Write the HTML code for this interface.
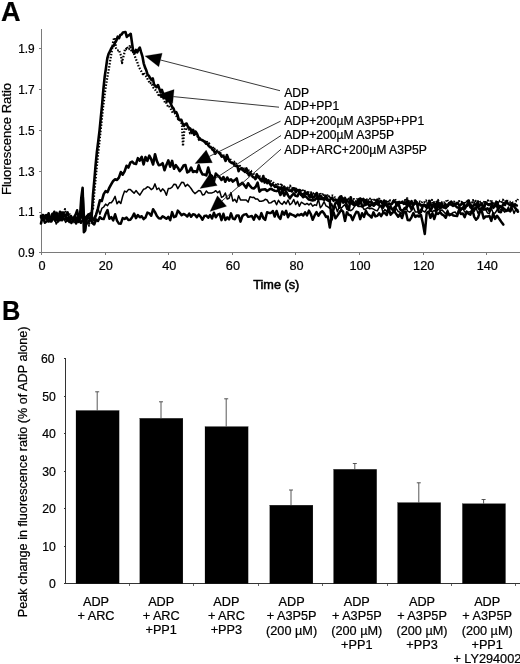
<!DOCTYPE html>
<html><head><meta charset="utf-8"><title>Figure</title>
<style>html,body{margin:0;padding:0;background:#fff}svg{display:block;filter:grayscale(1)}</style>
</head><body>
<svg width="520" height="664" viewBox="0 0 520 664">
<rect width="520" height="664" fill="#fff"/>
<g font-family="'Liberation Sans', Arial, sans-serif" fill="#000" stroke="#000" stroke-width="0.22">
<text transform="translate(1.0,20.5) scale(0.96,1)" font-size="28.2" font-weight="bold">A</text>
<text transform="translate(1.9,320.2) scale(0.91,1)" font-size="27.9" font-weight="bold">B</text>
<g stroke="#7a7a7a" stroke-width="1" fill="none" shape-rendering="crispEdges">
<path d="M41.5,29 V252.5 H520"/>
<path d="M38.5,252.5 H41.5"/>
<path d="M38.5,212.5 H41.5"/>
<path d="M38.5,171.5 H41.5"/>
<path d="M38.5,130.5 H41.5"/>
<path d="M38.5,89.5 H41.5"/>
<path d="M38.5,48.5 H41.5"/>
<path d="M41.5,252.5 V255"/>
<path d="M105.5,252.5 V255"/>
<path d="M168.5,252.5 V255"/>
<path d="M232.5,252.5 V255"/>
<path d="M295.5,252.5 V255"/>
<path d="M359.5,252.5 V255"/>
<path d="M423.5,252.5 V255"/>
<path d="M486.5,252.5 V255"/>
</g>
<g font-size="11.9" text-anchor="end">
<text x="34.7" y="257.1">0.9</text>
<text x="34.7" y="216.3">1.1</text>
<text x="34.7" y="175.5">1.3</text>
<text x="34.7" y="134.7">1.5</text>
<text x="34.7" y="93.9">1.7</text>
<text x="34.7" y="53.1">1.9</text>
</g>
<g font-size="12.7" text-anchor="middle">
<text x="42.1" y="269.7">0</text>
<text x="105.7" y="269.7">20</text>
<text x="169.3" y="269.7">40</text>
<text x="232.9" y="269.7">60</text>
<text x="296.5" y="269.7">80</text>
<text x="360.1" y="269.7">100</text>
<text x="423.7" y="269.7">120</text>
<text x="487.3" y="269.7">140</text>
</g>
<text x="276.3" y="289.0" font-size="12.7" text-anchor="middle" stroke="#000" stroke-width="0.55">Time (s)</text>
<text transform="translate(10.6,139) rotate(-90)" font-size="13" text-anchor="middle">Fluorescence Ratio</text>
<g fill="none" stroke="#000" stroke-linejoin="round" stroke-linecap="round">
<path d="M41.0,215.8 L42.9,216.8 L44.8,222.7 L46.7,221.3 L48.6,220.5 L50.5,219.6 L52.4,213.7 L54.3,217.0 L56.2,216.9 L58.1,215.6 L60.0,220.3 L61.9,216.3 L63.8,216.5 L65.7,215.4 L67.6,212.2 L69.5,220.7 L71.4,223.0 L73.3,219.4 L75.2,215.7 L77.1,210.3 L79.0,219.4 L80.9,222.8 L82.8,219.9 L84.7,221.9 L86.6,223.6 L88.5,222.5 L90.4,217.6 L92.3,222.8 L94.2,224.5 L96.1,219.5 L98.0,220.9 L99.9,217.1 L101.8,218.8 L103.7,219.1 L105.6,213.8 L107.5,210.1 L109.4,218.7 L111.3,217.1 L113.2,220.4 L115.1,214.3 L117.0,220.6 L118.9,223.6 L120.8,223.7 L122.7,218.1 L124.6,218.9 L126.5,217.6 L128.4,220.1 L130.3,219.8 L132.2,217.3 L134.1,213.5 L136.0,218.2 L137.9,215.0 L139.8,217.3 L141.7,216.2 L143.6,219.1 L145.5,217.5 L147.4,212.6 L149.3,213.4 L151.2,215.8 L153.1,209.2 L155.0,212.1 L156.9,216.0 L158.8,218.3 L160.7,218.6 L162.6,216.3 L164.5,217.4 L166.4,218.8 L168.3,216.9 L170.2,220.1 L172.1,212.1 L174.0,217.1 L175.9,216.3 L177.8,210.6 L179.7,212.8 L181.6,215.3 L183.5,213.9 L185.4,214.9 L187.3,216.5 L189.2,213.6 L191.1,216.8 L193.0,214.3 L194.9,214.7 L196.8,217.3 L198.7,214.6 L200.6,216.7 L202.5,219.8 L204.4,216.0 L206.3,215.6 L208.2,217.7 L210.1,215.0 L212.0,218.5 L213.9,212.8 L215.8,217.3 L217.7,214.6 L219.6,213.9 L221.5,220.1 L223.4,213.8 L225.3,220.0 L227.2,217.4 L229.1,219.3 L231.0,213.4 L232.9,218.6 L234.8,219.2 L236.7,215.4 L238.6,215.4 L240.5,221.6 L242.4,216.1 L244.3,214.6 L246.2,214.1 L248.1,216.7 L250.0,216.4 L251.9,216.0 L253.8,219.7 L255.7,214.8 L257.6,216.7 L259.5,219.1 L261.4,213.1 L263.3,218.0 L265.2,219.9 L267.1,212.3 L269.0,212.9 L270.9,213.0 L272.8,211.0 L274.7,216.5 L276.6,211.0 L278.5,216.6 L280.4,218.9 L282.3,211.5 L284.2,214.6 L286.1,210.8 L288.0,217.2 L289.9,213.6 L291.8,214.7 L293.7,215.4 L295.6,216.6 L297.5,214.5 L299.4,215.3 L301.3,214.0 L303.2,215.5 L305.1,212.4 L307.0,215.4 L308.9,210.6 L310.8,214.0 L312.7,219.8 L314.6,215.4 L316.5,212.1 L318.4,215.8 L320.3,212.8 L322.2,211.2 L324.1,213.3 L326.0,216.9 L327.9,216.6 L329.8,227.6 L331.7,216.0 L333.6,212.5 L335.5,218.3 L337.4,215.6 L339.3,212.7 L341.2,209.9 L343.1,211.7 L345.0,220.9 L346.9,212.2 L348.8,214.8 L350.7,215.5 L352.6,220.1 L354.5,215.5 L356.4,211.7 L358.3,212.5 L360.2,219.1 L362.1,213.2 L364.0,217.0 L365.9,210.9 L367.8,214.3 L369.7,215.6 L371.6,217.5 L373.5,212.3 L375.4,216.4 L377.3,215.9 L379.2,213.2 L381.1,216.1 L383.0,212.8 L384.9,213.1 L386.8,215.0 L388.7,208.5 L390.6,214.7 L392.5,212.6 L394.4,211.5 L396.3,214.0 L398.2,216.8 L400.1,214.0 L402.0,218.0 L403.9,212.2 L405.8,211.9 L407.7,220.0 L409.6,220.3 L411.5,217.3 L413.4,213.0 L415.3,216.9 L417.2,215.6 L419.1,216.6 L421.0,215.1 L422.9,223.6 L424.8,234.0 L426.7,212.7 L428.6,211.5 L430.5,217.8 L432.4,213.2 L434.3,219.0 L436.2,212.8 L438.1,214.0 L440.0,212.0 L441.9,214.4 L443.8,215.4 L445.7,217.7 L447.6,212.8 L449.5,215.3 L451.4,214.1 L453.3,215.5 L455.2,215.8 L457.1,216.0 L459.0,210.0 L460.9,214.0 L462.8,213.4 L464.7,217.1 L466.6,211.5 L468.5,213.6 L470.4,214.6 L472.3,209.2 L474.2,216.9 L476.1,219.7 L478.0,217.7 L479.9,211.9 L481.8,211.1 L483.7,218.4 L485.6,216.5 L487.5,216.6 L489.4,215.8 L491.3,220.9 L493.2,213.3 L495.1,218.9 L497.0,215.7 L498.3,217.5 L500.2,220.2 L501.8,222.6 L503.3,224.6" stroke-width="2.5"/>
<path d="M41.0,217.3 L42.9,214.3 L44.8,215.9 L46.7,215.0 L48.6,214.3 L50.5,221.9 L52.4,215.1 L54.3,217.2 L56.2,224.0 L58.1,220.9 L60.0,218.3 L61.9,215.3 L63.8,218.5 L65.7,222.4 L67.6,219.2 L69.5,221.3 L71.4,217.6 L73.3,219.0 L75.2,216.7 L77.1,218.7 L79.0,221.5 L80.9,212.8 L82.8,217.2 L84.7,218.2 L86.6,215.6 L88.5,216.5 L90.4,220.0 L92.3,223.6 L94.2,217.0 L96.1,214.6 L98.0,208.6 L99.9,214.3 L101.8,208.4 L103.7,207.0 L105.6,204.1 L107.5,205.7 L109.4,202.8 L111.3,202.8 L113.2,200.2 L115.1,196.4 L117.0,203.8 L118.9,201.2 L120.8,203.5 L122.7,196.3 L124.6,191.1 L126.5,192.0 L128.4,189.6 L130.3,189.5 L132.2,191.4 L134.1,193.3 L136.0,190.6 L137.9,192.9 L139.8,195.1 L141.7,192.2 L143.6,189.2 L145.5,188.6 L147.4,186.8 L149.3,187.4 L151.2,189.6 L153.1,188.3 L155.0,183.9 L156.9,189.5 L158.8,188.0 L160.7,191.5 L162.6,188.9 L164.5,190.8 L166.4,195.3 L168.3,188.6 L170.2,188.5 L172.1,187.1 L174.0,184.2 L175.9,184.6 L177.8,188.7 L179.7,185.7 L181.6,182.3 L183.5,182.4 L185.4,186.5 L187.3,184.4 L189.2,186.1 L191.1,188.5 L193.0,191.5 L194.9,193.6 L196.8,192.1 L198.7,190.5 L200.6,191.0 L202.5,194.9 L204.4,194.4 L206.3,191.0 L208.2,193.1 L210.1,193.1 L212.0,192.9 L213.9,192.1 L215.8,190.7 L217.7,192.8 L219.6,191.0 L221.5,197.4 L223.4,196.3 L225.3,193.0 L227.2,199.0 L229.1,198.3 L231.0,192.6 L232.9,201.1 L234.8,199.3 L236.7,202.4 L238.6,195.7 L240.5,199.9 L242.4,200.1 L244.3,200.0 L246.2,200.1 L248.1,202.1 L250.0,196.7 L251.9,197.4 L253.8,197.2 L255.7,199.1 L257.6,199.1 L259.5,201.3 L261.4,201.2 L263.3,200.8 L265.2,199.3 L267.1,200.0 L269.0,203.1 L270.9,202.8 L272.8,201.4 L274.7,200.6 L276.6,204.8 L278.5,200.3 L280.4,203.1 L282.3,204.4 L284.2,201.5 L286.1,204.0 L288.0,200.0 L289.9,204.8 L291.8,203.2 L293.7,199.5 L295.6,204.5 L297.5,201.3 L299.4,206.2 L301.3,202.2 L303.2,203.4 L305.1,204.6 L307.0,203.4 L308.9,204.9 L310.8,203.3 L312.7,206.1 L314.6,204.8 L316.5,205.4 L318.4,199.1 L320.3,207.7 L322.2,205.4 L324.1,201.7 L326.0,205.9 L327.9,206.8 L329.8,208.3 L331.7,203.8 L333.6,209.6 L335.5,206.1 L337.4,211.7 L339.3,206.4 L341.2,208.3 L343.1,206.2 L345.0,204.7 L346.9,209.6 L348.8,209.3 L350.7,210.7 L352.6,209.4 L354.5,206.4 L356.4,204.1 L358.3,206.4 L360.2,206.4 L362.1,206.2 L364.0,209.4 L365.9,208.9 L367.8,207.7 L369.7,208.8 L371.6,208.2 L373.5,209.1 L375.4,210.3 L377.3,210.9 L379.2,207.4 L381.1,205.8 L383.0,212.2 L384.9,209.5 L386.8,211.7 L388.7,205.9 L390.6,208.8 L392.5,209.7 L394.4,206.6 L396.3,208.7 L398.2,211.5 L400.1,212.3 L402.0,213.5 L403.9,208.2 L405.8,207.0 L407.7,211.2 L409.6,212.2 L411.5,210.6 L413.4,207.4 L415.3,211.9 L417.2,211.9 L419.1,211.4 L421.0,209.2 L422.9,210.9 L424.8,212.0 L426.7,209.1 L428.6,206.4 L430.5,211.1 L432.4,211.5 L434.3,210.5 L436.2,212.4 L438.1,209.2 L440.0,210.3 L441.9,209.9 L443.8,211.8 L445.7,214.0 L447.6,210.1 L449.5,215.1 L451.4,214.0 L453.3,212.4 L455.2,212.0 L457.1,214.6 L459.0,210.4 L460.9,210.5 L462.8,208.5 L464.7,211.8 L466.6,213.8 L468.5,212.0 L470.4,211.8 L472.3,210.5 L474.2,211.3 L476.1,207.9 L478.0,213.3 L479.9,210.1 L481.8,208.7 L483.7,209.4 L485.6,209.3 L487.5,213.0 L489.4,213.4 L491.3,208.2 L493.2,213.2 L495.1,213.1 L497.0,210.0 L498.9,208.0 L500.8,209.7 L502.7,209.9 L504.6,212.1 L506.5,210.6 L508.4,207.0 L510.3,211.9 L512.2,208.1 L514.1,213.4 L516.0,208.9 L517.9,210.0" stroke-width="1.5"/>
<path d="M41.0,223.5 L42.9,215.2 L44.8,217.4 L46.7,219.2 L48.6,213.3 L50.5,219.1 L52.4,217.5 L54.3,211.8 L56.2,218.6 L58.1,221.5 L60.0,211.7 L61.9,220.3 L63.8,218.4 L65.7,219.3 L67.6,219.2 L69.5,221.9 L71.4,217.1 L73.3,220.6 L75.2,216.5 L77.1,220.2 L79.0,215.3 L80.9,217.5 L82.8,197.2 L84.7,230.5 L86.6,217.4 L88.5,214.3 L90.4,215.5 L92.3,218.6 L94.2,220.0 L96.1,214.7 L98.0,208.3 L99.9,200.2 L101.8,201.0 L103.7,194.1 L105.6,191.1 L107.5,192.2 L109.4,187.6 L111.3,184.2 L113.2,180.9 L115.1,179.3 L117.0,179.9 L118.9,177.6 L120.8,172.1 L122.7,174.6 L124.6,171.3 L126.5,165.8 L128.4,167.6 L130.3,162.7 L132.2,161.6 L134.1,163.6 L136.0,164.0 L137.9,158.2 L139.8,160.6 L141.7,156.9 L143.6,164.5 L145.5,157.0 L147.4,160.8 L149.3,155.7 L151.2,159.2 L153.1,164.5 L155.0,154.2 L156.9,161.1 L158.8,165.2 L160.7,164.7 L162.6,163.2 L164.5,170.2 L166.4,164.9 L168.3,160.4 L170.2,166.7 L172.1,160.9 L174.0,168.8 L175.9,165.2 L177.8,167.7 L179.7,171.2 L181.6,169.0 L183.5,165.6 L185.4,165.0 L187.3,172.4 L189.2,171.4 L191.1,167.6 L193.0,172.0 L194.9,171.2 L196.8,172.1 L198.7,165.3 L200.6,170.8 L202.5,174.4 L204.4,174.5 L206.3,175.4 L208.2,167.5 L210.1,174.6 L212.0,176.0 L213.9,181.7 L215.8,173.5 L217.7,175.6 L219.6,177.2 L221.5,179.9 L223.4,177.1 L225.3,181.7 L227.2,177.5 L229.1,180.7 L231.0,179.3 L232.9,181.6 L234.8,180.1 L236.7,178.4 L238.6,185.8 L240.5,184.4 L242.4,182.8 L244.3,185.3 L246.2,187.8 L248.1,183.3 L250.0,185.9 L251.9,188.0 L253.8,188.5 L255.7,186.7 L257.6,182.7 L259.5,191.6 L261.4,189.8 L263.3,189.5 L265.2,189.2 L267.1,191.0 L269.0,189.7 L270.9,188.7 L272.8,189.9 L274.7,190.7 L276.6,191.1 L278.5,190.2 L280.4,195.0 L282.3,190.4 L284.2,195.6 L286.1,191.7 L288.0,195.4 L289.9,198.3 L291.8,195.6 L293.7,193.5 L295.6,195.8 L297.5,196.3 L299.4,191.9 L301.3,195.0 L303.2,197.2 L305.1,195.9 L307.0,197.6 L308.9,199.5 L310.8,199.9 L312.7,200.5 L314.6,200.0 L316.5,198.1 L318.4,199.1 L320.3,198.8 L322.2,199.0 L324.1,199.6 L326.0,196.0 L327.9,199.8 L329.8,200.9 L331.7,219.5 L333.6,208.0 L335.5,203.1 L337.4,201.7 L339.3,207.7 L341.2,196.2 L343.1,202.5 L345.0,198.5 L346.9,205.7 L348.8,210.1 L350.7,197.2 L352.6,204.0 L354.5,205.1 L356.4,203.2 L358.3,205.5 L360.2,198.6 L362.1,206.5 L364.0,205.4 L365.9,204.7 L367.8,203.3 L369.7,206.5 L371.6,203.8 L373.5,205.7 L375.4,204.0 L377.3,199.7 L379.2,205.5 L381.1,206.2 L383.0,207.7 L384.9,203.7 L386.8,206.0 L388.7,207.8 L390.6,206.7 L392.5,209.6 L394.4,211.6 L396.3,204.5 L398.2,202.0 L400.1,209.2 L402.0,210.9 L403.9,209.4 L405.8,209.1 L407.7,205.5 L409.6,205.3 L411.5,209.3 L413.4,204.8 L415.3,202.6 L417.2,204.6 L419.1,213.4 L421.0,212.0 L422.9,205.5 L424.8,205.4 L426.7,207.8 L428.6,205.4 L430.5,210.6 L432.4,207.1 L434.3,204.6 L436.2,210.6 L438.1,205.9 L440.0,207.9 L441.9,207.3 L443.8,206.6 L445.7,208.2 L447.6,205.7 L449.5,202.8 L451.4,201.9 L453.3,204.3 L455.2,205.6 L457.1,207.4 L459.0,207.6 L460.9,208.9 L462.8,207.8 L464.7,205.5 L466.6,205.8 L468.5,202.2 L470.4,207.2 L472.3,208.8 L474.2,209.0 L476.1,207.3 L478.0,207.2 L479.9,210.0 L481.8,207.7 L483.7,209.6 L485.6,209.2 L487.5,208.3 L489.4,211.0 L491.3,206.3 L493.2,206.9 L495.1,205.8 L497.0,205.8 L498.9,211.8 L500.8,212.3 L502.7,207.9 L504.6,209.3 L506.5,210.9 L508.4,210.0 L510.3,211.0 L512.2,204.8 L514.1,206.4 L516.0,209.1 L517.9,211.6" stroke-width="2.6"/>
<path d="M41.0,217.2 L42.3,219.6 L43.6,217.3 L44.9,217.0 L46.2,215.0 L47.5,217.3 L48.8,221.5 L50.1,219.3 L51.4,221.3 L52.7,218.8 L54.0,219.3 L55.3,218.6 L56.6,212.7 L57.9,220.7 L59.2,219.6 L60.5,219.6 L61.8,212.6 L63.1,212.5 L64.4,215.2 L65.7,216.5 L67.0,219.0 L68.3,217.9 L69.6,219.7 L70.9,216.0 L72.2,219.0 L73.5,219.3 L74.8,215.9 L76.1,223.5 L77.4,219.8 L78.7,221.8 L80.0,216.0 L81.3,197.8 L82.6,187.8 L83.9,232.1 L85.2,230.5 L86.5,218.8 L87.8,216.6 L89.1,214.8 L90.4,213.5 L91.7,216.5 L93.0,194.8 L94.3,180.5 L95.6,165.0 L96.9,152.0 L98.2,141.7 L99.5,130.9 L100.8,117.7 L102.1,104.7 L103.4,89.2 L104.7,76.7 L106.0,67.9 L107.3,58.4 L108.6,53.8 L109.9,51.5 L111.2,48.4 L112.5,46.5 L113.8,45.7 L115.1,42.4 L116.4,40.5 L117.7,36.7 L119.0,38.2 L120.3,34.9 L121.6,34.5 L122.9,32.6 L124.2,32.3 L125.5,32.0 L126.8,36.9 L128.1,35.6 L129.4,35.0 L130.7,33.8 L132.0,42.9 L133.3,52.2 L134.6,53.0 L135.9,49.9 L137.2,52.4 L138.5,49.4 L139.8,47.5 L141.1,52.2 L142.4,56.3 L143.7,63.3 L145.0,67.4 L146.3,70.3 L147.6,74.7 L148.9,75.8 L150.2,78.1 L151.5,80.0 L152.8,78.5 L154.1,84.7 L155.4,86.0 L156.7,87.2 L158.0,85.0 L159.3,88.6 L160.6,92.4 L161.9,89.8 L163.2,93.8 L164.5,97.2 L165.8,95.1 L167.1,101.1 L168.4,101.0 L169.7,101.4 L171.0,104.3 L172.3,107.2 L173.6,108.7 L174.9,112.6 L176.2,112.1 L177.5,114.9 L178.8,119.5 L180.1,120.1 L181.4,119.9 L182.7,123.8 L184.0,125.8 L185.3,124.0 L186.6,123.6 L187.9,126.7 L189.2,127.9 L190.5,128.8 L191.8,132.6 L193.1,129.9 L194.4,134.6 L195.7,131.8 L197.0,133.7 L198.3,137.1 L199.6,139.0 L200.9,139.7 L202.2,140.0 L203.5,140.9 L204.8,142.0 L206.1,143.8 L207.4,143.8 L208.7,145.7 L210.0,147.3 L211.3,147.5 L212.6,149.8 L213.9,150.5 L215.2,153.7 L216.5,152.0 L217.8,151.8 L219.1,152.8 L220.4,154.3 L221.7,156.7 L223.0,155.7 L224.3,157.7 L225.6,160.9 L226.9,155.0 L228.2,158.2 L229.5,161.2 L230.8,162.4 L232.1,163.1 L233.4,163.0 L234.7,165.6 L236.0,166.0 L237.3,165.7 L238.6,171.2 L239.9,168.9 L241.2,168.4 L242.5,170.0 L243.8,170.8 L245.1,171.9 L246.4,168.4 L247.7,172.5 L249.0,175.4 L250.3,172.6 L251.6,174.9 L252.9,177.1 L254.2,177.5 L255.5,179.1 L256.8,174.7 L258.1,177.4 L259.4,178.0 L260.7,180.1 L262.0,181.4 L263.3,176.1 L264.6,182.6 L265.9,179.2 L267.2,183.2 L268.5,180.4 L269.8,183.5 L271.1,185.7 L272.4,184.2 L273.7,185.3 L275.0,186.9 L276.3,186.4 L277.6,186.7 L278.9,189.6 L280.2,189.2 L281.5,187.4 L282.8,192.4 L284.1,186.7 L285.4,190.2 L286.7,188.7 L288.0,189.6 L289.3,190.8 L290.6,190.4 L291.9,191.4 L293.2,188.3 L294.5,188.6 L295.8,192.3 L297.1,190.1 L298.4,190.3 L299.7,190.0 L301.0,194.6 L302.3,194.1 L303.6,195.5 L304.9,192.1 L306.2,193.8 L307.5,192.4 L308.8,195.7 L310.1,197.3 L311.4,193.7 L312.7,197.8 L314.0,197.1 L315.3,195.5 L316.6,193.0 L317.9,198.5 L319.2,196.4 L320.5,195.8 L321.8,197.6 L323.1,197.9 L324.4,199.8 L325.7,196.2 L327.0,199.8 L328.3,200.6 L329.6,200.8 L330.9,198.4 L332.2,197.8 L333.5,200.8 L334.8,199.6 L336.1,199.9 L337.4,202.2 L338.7,199.8 L340.0,196.9 L341.3,200.1 L342.6,198.0 L343.9,202.3 L345.2,201.6 L346.5,200.2 L347.8,201.2 L349.1,202.6 L350.4,201.5 L351.7,203.5 L353.0,201.4 L354.3,203.2 L355.6,204.0 L356.9,204.2 L358.2,200.8 L359.5,203.2 L360.8,199.0 L362.1,200.3 L363.4,199.0 L364.7,203.8 L366.0,200.3 L367.3,202.3 L368.6,202.0 L369.9,202.4 L371.2,201.6 L372.5,202.9 L373.8,205.4 L375.1,202.8 L376.4,203.6 L377.7,204.4 L379.0,202.6 L380.3,201.0 L381.6,202.2 L382.9,204.8 L384.2,200.6 L385.5,202.3 L386.8,204.9 L388.1,204.6 L389.4,203.5 L390.7,204.8 L392.0,203.8 L393.3,201.8 L394.6,201.3 L395.9,202.8 L397.2,205.3 L398.5,203.0 L399.8,202.6 L401.1,202.8 L402.4,201.6 L403.7,203.9 L405.0,202.2 L406.3,204.6 L407.6,200.4 L408.9,204.6 L410.2,203.1 L411.5,201.1 L412.8,205.3 L414.1,203.7 L415.4,200.7 L416.7,202.8 L418.0,204.6 L419.3,203.5 L420.6,205.4 L421.9,205.4 L423.2,205.3 L424.5,204.8 L425.8,206.3 L427.1,205.3 L428.4,205.0 L429.7,201.0 L431.0,205.7 L432.3,206.4 L433.6,203.9 L434.9,203.6 L436.2,207.4 L437.5,201.6 L438.8,205.1 L440.1,208.2 L441.4,203.0 L442.7,205.5 L444.0,207.4 L445.3,204.3 L446.6,205.3 L447.9,205.9 L449.2,203.1 L450.5,204.4 L451.8,205.0 L453.1,205.8 L454.4,204.4 L455.7,204.2 L457.0,202.9 L458.3,203.9 L459.6,205.9 L460.9,204.7 L462.2,203.2 L463.5,203.2 L464.8,208.7 L466.1,206.3 L467.4,205.5 L468.7,200.5 L470.0,205.5 L471.3,205.2 L472.6,207.1 L473.9,205.2 L475.2,204.4 L476.5,205.3 L477.8,201.5 L479.1,206.1 L480.4,205.0 L481.7,203.4 L483.0,206.6 L484.3,207.3 L485.6,202.3 L486.9,203.5 L488.2,205.0 L489.5,204.8 L490.8,203.9 L492.1,203.0 L493.4,207.8 L494.7,206.1 L496.0,202.6 L497.3,202.4 L498.6,207.2 L499.9,206.0 L501.2,207.3 L502.5,205.8 L503.8,203.1 L505.1,204.9 L506.4,201.1 L507.7,203.3 L509.0,204.4 L510.3,205.3 L511.6,203.4 L512.9,204.3 L514.2,205.2 L515.5,205.1 L516.8,205.5" stroke-width="2.6"/>
<path d="M41.0,218.2 L42.0,216.5 L43.0,220.0 L44.0,217.7 L45.0,214.9 L46.0,215.5 L47.0,217.5 L48.0,217.2 L49.0,218.0 L50.0,217.5 L51.0,218.1 L52.0,217.1 L53.0,213.5 L54.0,218.8 L55.0,220.9 L56.0,218.9 L57.0,216.9 L58.0,218.9 L59.0,214.4 L60.0,211.5 L61.0,217.7 L62.0,214.5 L63.0,219.9 L64.0,214.1 L65.0,209.1 L66.0,214.2 L67.0,222.5 L68.0,216.3 L69.0,213.1 L70.0,215.1 L71.0,219.2 L72.0,219.1 L73.0,218.1 L74.0,222.2 L75.0,219.7 L76.0,217.4 L77.0,219.4 L78.0,222.8 L79.0,220.6 L80.0,220.8 L81.0,214.1 L82.0,217.0 L83.0,219.8 L84.0,216.6 L85.0,220.9 L86.0,219.4 L87.0,220.4 L88.0,216.8 L89.0,225.6 L90.0,219.1 L91.0,212.1 L92.0,210.7 L93.0,208.8 L94.0,196.4 L95.0,185.3 L96.0,175.3 L97.0,165.0 L98.0,155.0 L99.0,146.1 L100.0,136.8 L101.0,127.5 L102.0,117.8 L103.0,108.0 L104.0,100.3 L105.0,92.2 L106.0,85.2 L107.0,79.4 L108.0,73.6 L109.0,68.2 L110.0,61.7 L111.0,55.8 L112.0,50.0 L113.0,42.6 L114.0,38.3 L115.0,37.9 L116.0,48.2 L117.0,50.0 L118.0,50.3 L119.0,49.9 L120.0,53.4 L121.0,55.6 L122.0,63.2 L123.0,58.0 L124.0,55.0 L125.0,48.9 L126.0,49.3 L127.0,46.8 L128.0,49.4 L129.0,49.1 L130.0,45.2 L131.0,49.5 L132.0,52.5 L133.0,51.7 L134.0,53.7 L135.0,56.7 L136.0,59.5 L137.0,60.9 L138.0,64.9 L139.0,67.1 L140.0,69.1 L141.0,70.7 L142.0,73.2 L143.0,74.3 L144.0,72.9 L145.0,75.4 L146.0,76.2 L147.0,77.6 L148.0,80.2 L149.0,81.7 L150.0,83.7 L151.0,82.7 L152.0,84.5 L153.0,87.2 L154.0,88.3 L155.0,89.4 L156.0,91.0 L157.0,91.4 L158.0,94.5 L159.0,95.3 L160.0,96.0 L161.0,96.6 L162.0,98.5 L163.0,96.7 L164.0,100.1 L165.0,102.5 L166.0,101.9 L167.0,105.1 L168.0,106.3 L169.0,105.6 L170.0,108.2 L171.0,109.3 L172.0,111.5 L173.0,112.8 L174.0,113.3 L175.0,113.5 L176.0,115.5 L177.0,116.8 L178.0,119.0 L179.0,119.7 L180.0,119.6 L181.0,121.6 L182.0,125.6 L183.0,146.1 L184.0,133.0 L185.0,128.1 L186.0,128.1 L187.0,129.3 L188.0,130.2 L189.0,129.5 L190.0,133.3 L191.0,130.9 L192.0,133.3 L193.0,132.9 L194.0,134.8 L195.0,131.3 L196.0,134.0 L197.0,136.0 L198.0,137.1 L199.0,140.0 L200.0,138.3 L201.0,140.2 L202.0,140.3 L203.0,141.2 L204.0,141.5 L205.0,141.4 L206.0,142.9 L207.0,141.8 L208.0,145.2 L209.0,143.3 L210.0,145.6 L211.0,148.6 L212.0,146.5 L213.0,147.5 L214.0,149.6 L215.0,148.9 L216.0,148.6 L217.0,150.6 L218.0,151.7 L219.0,152.6 L220.0,151.5 L221.0,155.2 L222.0,155.8 L223.0,154.6 L224.0,155.6 L225.0,155.4 L226.0,158.3 L227.0,156.5 L228.0,158.9 L229.0,158.2 L230.0,158.6 L231.0,161.0 L232.0,162.5 L233.0,161.6 L234.0,161.5 L235.0,163.9 L236.0,163.6 L237.0,164.7 L238.0,166.9 L239.0,167.1 L240.0,165.9 L241.0,169.9 L242.0,167.9 L243.0,169.5 L244.0,168.5 L245.0,169.9 L246.0,168.4 L247.0,173.1 L248.0,173.0 L249.0,170.4 L250.0,170.5 L251.0,170.8 L252.0,174.6 L253.0,173.1 L254.0,174.0 L255.0,174.2 L256.0,174.9 L257.0,174.1 L258.0,175.9 L259.0,174.6 L260.0,176.7 L261.0,177.6 L262.0,178.3 L263.0,177.9 L264.0,177.6 L265.0,179.3 L266.0,179.0 L267.0,181.9 L268.0,181.4 L269.0,180.8 L270.0,180.8 L271.0,181.0 L272.0,181.1 L273.0,182.3 L274.0,183.5 L275.0,184.3 L276.0,184.8 L277.0,187.1 L278.0,184.2 L279.0,185.3 L280.0,188.8 L281.0,183.5 L282.0,185.3 L283.0,186.4 L284.0,186.6 L285.0,187.2 L286.0,186.7 L287.0,187.6 L288.0,187.5 L289.0,188.6 L290.0,185.6 L291.0,187.1 L292.0,188.4 L293.0,187.4 L294.0,187.6 L295.0,189.9 L296.0,188.6 L297.0,190.4 L298.0,190.7 L299.0,190.5 L300.0,190.9 L301.0,190.5 L302.0,189.1 L303.0,191.0 L304.0,191.8 L305.0,190.9 L306.0,191.7 L307.0,192.9 L308.0,191.2 L309.0,193.3 L310.0,195.0 L311.0,192.3 L312.0,193.4 L313.0,193.2 L314.0,195.4 L315.0,194.1 L316.0,195.0 L317.0,193.3 L318.0,194.3 L319.0,194.5 L320.0,192.6 L321.0,196.6 L322.0,196.1 L323.0,193.2 L324.0,196.3 L325.0,195.5 L326.0,196.4 L327.0,196.4 L328.0,194.4 L329.0,196.1 L330.0,198.4 L331.0,196.1 L332.0,195.7 L333.0,195.5 L334.0,195.8 L335.0,197.9 L336.0,199.7 L337.0,198.4 L338.0,198.4 L339.0,200.9 L340.0,197.8 L341.0,197.8 L342.0,199.4 L343.0,199.7 L344.0,197.8 L345.0,197.7 L346.0,199.5 L347.0,199.5 L348.0,197.7 L349.0,199.0 L350.0,198.7 L351.0,199.9 L352.0,199.3 L353.0,199.3 L354.0,199.1 L355.0,200.8 L356.0,201.2 L357.0,199.2 L358.0,200.7 L359.0,198.8 L360.0,199.8 L361.0,200.7 L362.0,201.7 L363.0,199.4 L364.0,199.8 L365.0,200.2 L366.0,198.2 L367.0,200.1 L368.0,199.3 L369.0,200.6 L370.0,198.8 L371.0,197.9 L372.0,200.3 L373.0,200.6 L374.0,199.7 L375.0,201.5 L376.0,200.1 L377.0,199.8 L378.0,201.1 L379.0,198.7 L380.0,199.8 L381.0,200.6 L382.0,201.7 L383.0,200.6 L384.0,201.2 L385.0,200.1 L386.0,201.2 L387.0,202.9 L388.0,200.2 L389.0,203.9 L390.0,200.3 L391.0,201.1 L392.0,201.4 L393.0,202.4 L394.0,199.8 L395.0,198.8 L396.0,202.1 L397.0,202.3 L398.0,202.2 L399.0,204.6 L400.0,201.7 L401.0,201.8 L402.0,202.6 L403.0,202.0 L404.0,203.5 L405.0,200.1 L406.0,201.1 L407.0,197.4 L408.0,202.6 L409.0,201.1 L410.0,202.7 L411.0,204.2 L412.0,201.6 L413.0,201.3 L414.0,201.0 L415.0,200.6 L416.0,200.9 L417.0,202.4 L418.0,201.7 L419.0,201.8 L420.0,201.5 L421.0,202.8 L422.0,202.3 L423.0,201.6 L424.0,202.5 L425.0,201.6 L426.0,200.4 L427.0,203.5 L428.0,202.3 L429.0,200.6 L430.0,203.1 L431.0,202.2 L432.0,199.9 L433.0,203.8 L434.0,202.2 L435.0,202.9 L436.0,202.1 L437.0,201.7 L438.0,200.0 L439.0,203.1 L440.0,201.9 L441.0,201.6 L442.0,202.3 L443.0,202.0 L444.0,202.8 L445.0,201.5 L446.0,201.9 L447.0,199.4 L448.0,201.5 L449.0,202.8 L450.0,203.6 L451.0,201.6 L452.0,201.9 L453.0,203.9 L454.0,201.6 L455.0,202.9 L456.0,204.0 L457.0,202.0 L458.0,203.5 L459.0,201.1 L460.0,202.2 L461.0,201.9 L462.0,202.1 L463.0,203.4 L464.0,204.9 L465.0,201.2 L466.0,201.3 L467.0,202.6 L468.0,200.7 L469.0,202.6 L470.0,202.7 L471.0,201.7 L472.0,202.6 L473.0,200.1 L474.0,202.9 L475.0,200.1 L476.0,201.2 L477.0,201.3 L478.0,201.5 L479.0,203.0 L480.0,202.1 L481.0,201.5 L482.0,202.7 L483.0,203.9 L484.0,202.0 L485.0,202.4 L486.0,203.5 L487.0,202.3 L488.0,200.5 L489.0,205.0 L490.0,204.7 L491.0,199.6 L492.0,202.0 L493.0,202.5 L494.0,203.2 L495.0,202.8 L496.0,201.7 L497.0,200.7 L498.0,202.1 L499.0,203.2 L500.0,200.7 L501.0,200.8 L502.0,202.0 L503.0,199.7 L504.0,201.7 L505.0,201.5 L506.0,202.5 L507.0,201.2 L508.0,200.9 L509.0,201.5 L510.0,201.9 L511.0,201.2 L512.0,202.0 L513.0,202.9 L514.0,203.4 L515.0,204.0 L516.0,201.1 L517.0,201.5 L518.0,199.0" stroke-width="2.2" stroke-dasharray="1.5 1.6" stroke-linecap="butt"/>
</g>
<path d="M160.5,60.0 L280.0,90.7" stroke="#222" stroke-width="0.9" fill="none"/>
<path d="M145.0,56.0 L158.8,66.8 L162.2,53.2 Z" fill="#000"/>
<path d="M173.4,96.6 L279.0,107.2" stroke="#222" stroke-width="0.9" fill="none"/>
<path d="M157.5,95.0 L172.7,103.6 L174.1,89.6 Z" fill="#000"/>
<path d="M209.3,156.4 L280.5,121.2" stroke="#222" stroke-width="0.9" fill="none"/>
<path d="M195.0,163.5 L212.4,162.7 L206.2,150.1 Z" fill="#000"/>
<path d="M213.4,179.7 L281.0,135.5" stroke="#222" stroke-width="0.9" fill="none"/>
<path d="M200.0,188.5 L217.2,185.6 L209.6,173.9 Z" fill="#000"/>
<path d="M222.0,200.9 L281.0,149.2" stroke="#222" stroke-width="0.9" fill="none"/>
<path d="M210.0,211.5 L226.6,206.2 L217.4,195.7 Z" fill="#000"/>
<g font-size="12.15">
<text x="284.2" y="96.7">ADP</text>
<text x="284.2" y="110.3">ADP+PP1</text>
<text x="284.2" y="124.7">ADP+200µM A3P5P+PP1</text>
<text x="284.2" y="139.2">ADP+200µM A3P5P</text>
<text x="284.2" y="154.0">ADP+ARC+200µM A3P5P</text>
</g>
<g stroke="#333" stroke-width="1" fill="none" shape-rendering="crispEdges">
<path d="M65.5,358.5 V583.5 H520"/>
<path d="M63.5,583.5 H65.5"/>
<path d="M63.5,546.5 H65.5"/>
<path d="M63.5,508.5 H65.5"/>
<path d="M63.5,471.5 H65.5"/>
<path d="M63.5,433.5 H65.5"/>
<path d="M63.5,396.5 H65.5"/>
<path d="M63.5,358.5 H65.5"/>
<path d="M129.5,583.5 V585.5" stroke="#666"/>
<path d="M193.9,583.5 V585.5" stroke="#666"/>
<path d="M258.3,583.5 V585.5" stroke="#666"/>
<path d="M322.7,583.5 V585.5" stroke="#666"/>
<path d="M387.1,583.5 V585.5" stroke="#666"/>
<path d="M451.5,583.5 V585.5" stroke="#666"/>
<path d="M515.9,583.5 V585.5" stroke="#666"/>
</g>
<g font-size="12.2" text-anchor="end">
<text x="55.9" y="588.0">0</text>
<text x="55.9" y="550.5">10</text>
<text x="55.9" y="513.1">20</text>
<text x="55.9" y="475.6">30</text>
<text x="55.9" y="438.2">40</text>
<text x="55.9" y="400.8">50</text>
<text x="54.5" y="363.3">60</text>
</g>
<rect x="76.0" y="410.5" width="43.1" height="173.0" fill="#000"/>
<path d="M97.2,410.5 V391.8 M95.2,391.8 H99.2" stroke="#444" stroke-width="0.9" fill="none"/>
<rect x="139.8" y="418.3" width="43.1" height="165.2" fill="#000"/>
<path d="M161.0,418.3 V401.8 M159.0,401.8 H163.0" stroke="#444" stroke-width="0.9" fill="none"/>
<rect x="205.0" y="426.6" width="43.1" height="156.9" fill="#000"/>
<path d="M226.2,426.6 V398.8 M224.2,398.8 H228.2" stroke="#444" stroke-width="0.9" fill="none"/>
<rect x="269.8" y="505.2" width="43.1" height="78.3" fill="#000"/>
<path d="M291.0,505.2 V490 M289.0,490 H293.0" stroke="#444" stroke-width="0.9" fill="none"/>
<rect x="333.6" y="469.3" width="43.1" height="114.2" fill="#000"/>
<path d="M354.8,469.3 V463.5 M352.8,463.5 H356.8" stroke="#444" stroke-width="0.9" fill="none"/>
<rect x="397.6" y="502.6" width="43.1" height="80.9" fill="#000"/>
<path d="M418.8,502.6 V482.8 M416.8,482.8 H420.8" stroke="#444" stroke-width="0.9" fill="none"/>
<rect x="462.4" y="503.7" width="43.1" height="79.8" fill="#000"/>
<path d="M483.6,503.7 V499.5 M481.6,499.5 H485.6" stroke="#444" stroke-width="0.9" fill="none"/>
<g font-size="12.7" text-anchor="middle">
<text x="96.0" y="605.7">ADP</text>
<text x="96.0" y="619.8">+ ARC</text>
<text x="161.2" y="605.7">ADP</text>
<text x="161.2" y="619.8">+ ARC</text>
<text x="161.2" y="634.2">+PP1</text>
<text x="226.4" y="605.7">ADP</text>
<text x="226.4" y="619.8">+ ARC</text>
<text x="226.4" y="634.2">+PP3</text>
<text x="291.6" y="605.7">ADP</text>
<text x="291.6" y="619.8">+ A3P5P</text>
<text x="291.6" y="635.4">(200 µM)</text>
<text x="356.8" y="605.7">ADP</text>
<text x="356.8" y="619.8">+ A3P5P</text>
<text x="356.8" y="635.4">(200 µM)</text>
<text x="356.8" y="649.4">+PP1</text>
<text x="422.0" y="605.7">ADP</text>
<text x="422.0" y="619.8">+ A3P5P</text>
<text x="422.0" y="635.4">(200 µM)</text>
<text x="422.0" y="649.4">+PP3</text>
<text x="487.2" y="605.7">ADP</text>
<text x="487.2" y="619.8">+ A3P5P</text>
<text x="487.2" y="635.4">(200 µM)</text>
<text x="487.2" y="649.4">+PP1</text>
<text x="453.4" y="663.1" text-anchor="start">+ LY294002</text>
</g>
<text transform="translate(26.8,471.8) rotate(-90)" font-size="12.65" text-anchor="middle">Peak change in fluorescence ratio (% of ADP alone)</text>
</g></svg>
</body></html>
